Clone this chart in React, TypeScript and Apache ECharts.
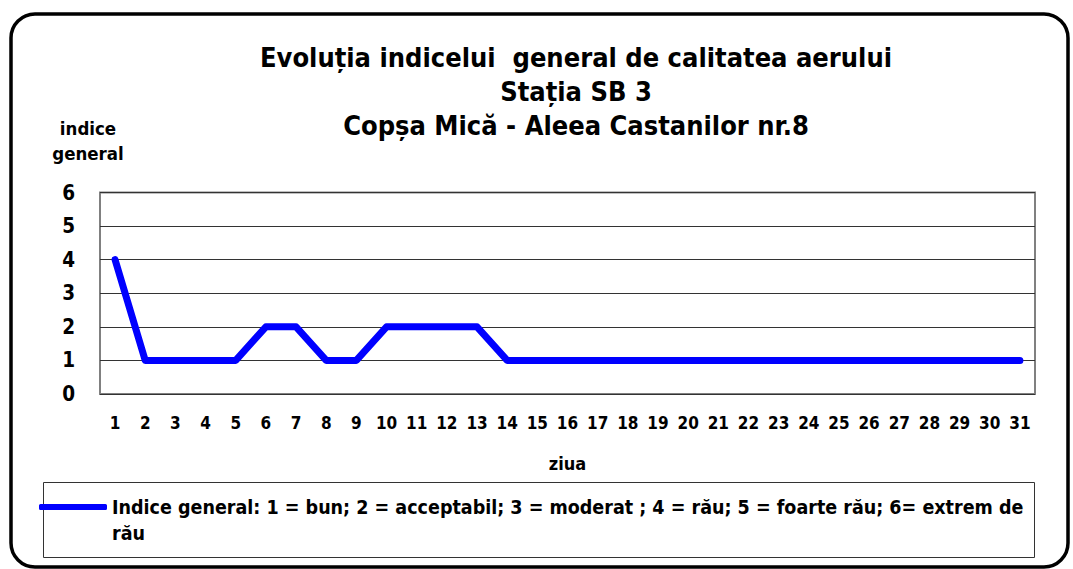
import React, { useEffect, useRef } from "react";
import * as echarts from "echarts";

const days = ["1","2","3","4","5","6","7","8","9","10","11","12","13","14","15","16","17","18","19","20","21","22","23","24","25","26","27","28","29","30","31"];
const indiceGeneral = [4,1,1,1,1,2,2,1,1,2,2,2,2,1,1,1,1,1,1,1,1,1,1,1,1,1,1,1,1,1,1];
const seriesName = "Indice general: 1 = bun; 2 = acceptabil; 3 = moderat ; 4 = rău; 5 = foarte rău; 6= extrem de rău";
const titleLines = ["Evoluția indicelui  general de calitatea aerului", "Stația SB 3", "Copșa Mică - Aleea Castanilor nr.8"];
const yAxisName = "indice\ngeneral";
const xAxisName = "ziua";

const FONT = "'DejaVu Sans Condensed', 'DejaVu Sans', sans-serif";

export default function App() {
  const ref = useRef<HTMLDivElement>(null);
  useEffect(() => {
    if (!ref.current) return;
    const chart = echarts.init(ref.current, null, { renderer: "svg" });
    chart.setOption({
      animation: false,
      backgroundColor: "#ffffff",
      textStyle: { fontFamily: FONT },
      title: {
        text: titleLines.join("\n"),
        left: 571,
        top: 35,
        textAlign: "center",
        textStyle: { fontFamily: FONT, fontSize: 27, fontWeight: "bold", color: "#000", lineHeight: 34 },
      },
      graphic: [
        {
          type: "rect",
          shape: { x: 11, y: 14, width: 1057, height: 553, r: 24 },
          style: { fill: "none", stroke: "#000", lineWidth: 3.5 },
          z: 100,
        },
        {
          type: "rect",
          shape: { x: 43.5, y: 482.5, width: 991, height: 75 },
          style: { fill: "none", stroke: "#333", lineWidth: 1 },
          z: 0,
        },
      ],
      legend: {
        left: 39,
        top: 468,
        padding: 0,
        itemGap: 2,
        icon: "roundRect",
        itemWidth: 68,
        itemHeight: 6,
        data: [{ name: seriesName, itemStyle: { color: "#0000FF" } }],
        formatter: (n: string) => "\n" + n.replace(" de rău", " de\nrău"),
        textStyle: { fontFamily: FONT, fontSize: 19.5, fontWeight: "bold", color: "#000", lineHeight: 26 },
      },
      grid: { left: 100, right: 38, top: 192.5, bottom: 175, show: true, borderColor: "#808080", borderWidth: 2, backgroundColor: "transparent" },
      xAxis: {
        type: "category",
        data: days,
        boundaryGap: true,
        name: xAxisName,
        nameLocation: "middle",
        nameGap: 60,
        nameTextStyle: { fontFamily: FONT, fontSize: 18, fontWeight: "bold", color: "#000", verticalAlign: "top" },
        axisLine: { show: false },
        axisTick: { show: false },
        axisLabel: { fontFamily: FONT, fontSize: 17, fontWeight: "bold", color: "#000", margin: 20, interval: 0 },
        splitLine: { show: false },
      },
      yAxis: {
        type: "value",
        min: 0,
        max: 6,
        interval: 1,
        name: yAxisName,
        nameLocation: "end",
        nameGap: 27,
        nameTextStyle: { fontFamily: FONT, fontSize: 18.5, fontWeight: "bold", color: "#000", lineHeight: 25, align: "center", padding: [0, 24, 0, 0] },
        axisLine: { show: false },
        axisTick: { show: false },
        axisLabel: { fontFamily: FONT, fontSize: 20.5, fontWeight: "bold", color: "#000", margin: 25 },
        splitLine: { show: true, lineStyle: { color: "#333", width: 1 } },
      },
      series: [
        {
          name: seriesName,
          type: "line",
          data: indiceGeneral,
          showSymbol: false,
          symbol: "none",
          color: "#0000FF",
          lineStyle: { color: "#0000FF", width: 7, cap: "round", join: "round" },
          z: 5,
        },
      ],
    });
    return () => chart.dispose();
  }, []);
  return <div ref={ref} style={{ position: "fixed", left: 0, top: 0, width: 1073, height: 569 }} />;
}
